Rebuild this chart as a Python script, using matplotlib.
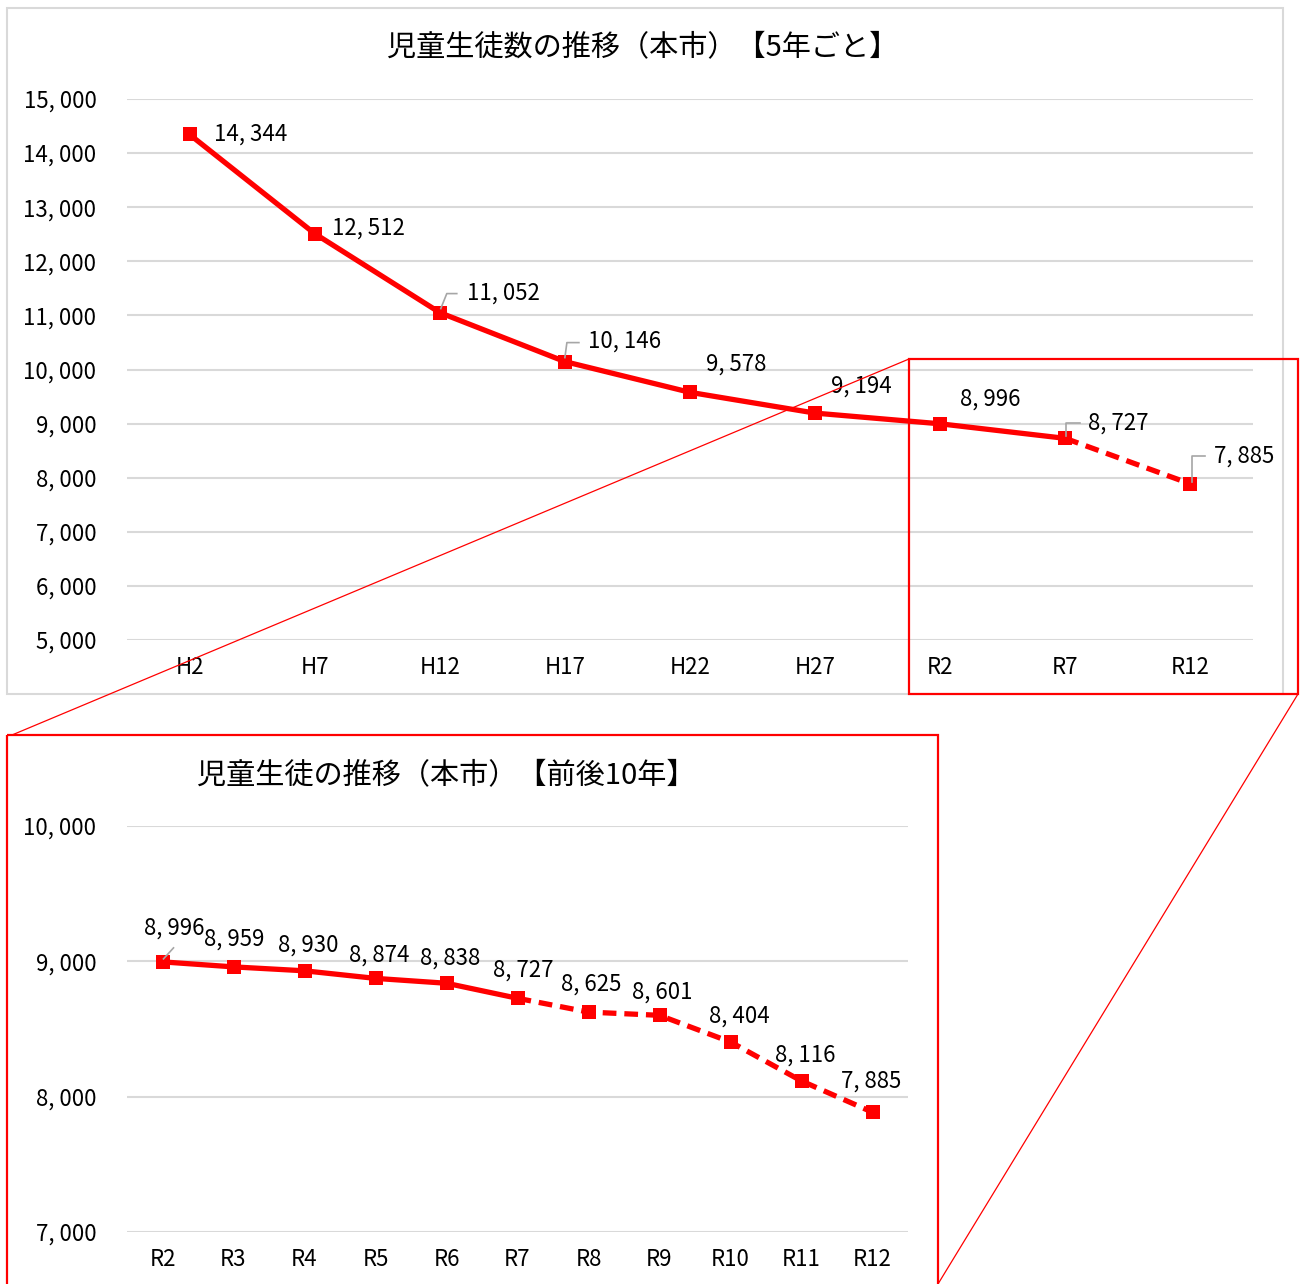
import matplotlib
matplotlib.use("Agg")
import matplotlib.pyplot as plt
from matplotlib.patches import Rectangle
from matplotlib.lines import Line2D
from matplotlib.transforms import IdentityTransform

plt.rcParams['font.family'] = ['Noto Sans CJK JP', 'DejaVu Sans']

# ---- data ----
five_year_labels = ['H2', 'H7', 'H12', 'H17', 'H22', 'H27', 'R2', 'R7', 'R12']
five_year_values = [14344, 12512, 11052, 10146, 9578, 9194, 8996, 8727, 7885]
five_year_last_actual = 7          # R7: solid up to here, dashed (projection) after

ten_year_labels = ['R2', 'R3', 'R4', 'R5', 'R6', 'R7', 'R8', 'R9', 'R10', 'R11', 'R12']
ten_year_values = [8996, 8959, 8930, 8874, 8838, 8727, 8625, 8601, 8404, 8116, 7885]
ten_year_last_actual = 5           # R7

top_title = '児童生徒数の推移（本市）【5年ごと】'
bottom_title = '児童生徒の推移（本市）【前後10年】'

# ---- styling ----
W, H = 1305, 1284
DPI = 100
RED = '#FF0000'
GRID = '#D9D9D9'
LEADER = '#A6A6A6'
TXT = '#000000'
TICK_FS = 16
LABEL_FS = 16
TITLE_FS = 21

# label offsets in pixels (dx, dy) from each point; dy positive = upward
top_label_offsets = [(24, 0), (17, 5), (27, 19), (23, 20), (16, 28),
                     (16, 27), (20, 25), (23, 15), (24, 28)]
# leader lines (polyline offsets in pixels from the point) for some labels
top_leaders = {2: [(1, 4), (7, 19), (17, 19)],
               3: [(0, 4), (2, 19), (14, 19)],
               7: [(1, 2), (1, 15), (15, 15)],
               8: [(2, 2), (2, 28), (15, 28)]}
bottom_label_offsets = [(12, 34), (1, 28), (4, 26), (4, 23), (4, 25), (6, 28),
                        (3, 28), (3, 23), (9, 26), (4, 26), (-1, 31)]
bottom_leaders = {0: [(1, 3), (11, 14)]}


def px_axes(fig, x0, y_top, x1, y_bottom):
    """Axes placed by image pixel coordinates (origin top-left)."""
    return fig.add_axes([x0 / W, 1 - y_bottom / H, (x1 - x0) / W, (y_bottom - y_top) / H])


def draw_series(ax, labels, values, last_actual, ymin, ymax, step,
                offsets, ha, lw, ms):
    n = len(values)
    xs = list(range(n))
    ax.set_xlim(-0.5, n - 0.5)
    ax.set_ylim(ymin, ymax)
    ticks = list(range(ymin, ymax + 1, step))
    ax.set_yticks(ticks)
    ax.set_yticklabels([f'{t:,}'.replace(',', ', ') for t in ticks])
    ax.set_xticks(xs)
    ax.set_xticklabels(labels)
    ax.grid(axis='y', color=GRID, linewidth=1.5)
    ax.set_axisbelow(True)
    for s in ax.spines.values():
        s.set_visible(False)
    ax.tick_params(axis='both', length=0, labelsize=TICK_FS, colors=TXT)
    ax.tick_params(axis='y', pad=22)
    ax.tick_params(axis='x', pad=11.5)
    ax.patch.set_alpha(0)

    # actual values (solid) and projection (dashed)
    ax.plot(xs[:last_actual + 1], values[:last_actual + 1], color=RED, lw=lw,
            solid_capstyle='round', zorder=3)
    ax.plot(xs[last_actual:], values[last_actual:], color=RED, lw=lw,
            linestyle=(0, (2.6, 1.5)), zorder=3)
    ax.plot(xs, values, linestyle='none', marker='s', ms=ms, color=RED,
            markeredgewidth=0, zorder=4)

    for i, v in enumerate(values):
        dx, dy = offsets[i]
        ax.annotate(f'{v:,}'.replace(',', ', '), xy=(i, v), xytext=(dx, dy),
                    textcoords='offset pixels', ha=ha, va='center',
                    fontsize=LABEL_FS, color=TXT, zorder=5)
    return xs


fig = plt.figure(figsize=(W / DPI, H / DPI), dpi=DPI)
fig.patch.set_facecolor('white')

# ---- upper chart: every 5 years ----
ax1 = px_axes(fig, 127, 99, 1253, 640)
draw_series(ax1, five_year_labels, five_year_values, five_year_last_actual,
            5000, 15000, 1000, top_label_offsets, 'left', 3.8, 10.5)
fig.text(643 / W, 1 - 47 / H, top_title, ha='center', va='center',
         fontsize=TITLE_FS, color=TXT)

# ---- lower chart: 10 years around now ----
ax2 = px_axes(fig, 127, 826, 908, 1232)
draw_series(ax2, ten_year_labels, ten_year_values, ten_year_last_actual,
            7000, 10000, 1000, bottom_label_offsets, 'center', 3.8, 10)
fig.text(446 / W, 1 - 775 / H, bottom_title, ha='center', va='center',
         fontsize=TITLE_FS, color=TXT)


def add_leaders(ax, values, leaders):
    for i, pts in leaders.items():
        bx, by = ax.transData.transform((i, values[i]))
        xs = [bx + p[0] for p in pts]
        ys = [by + p[1] for p in pts]
        fig.add_artist(Line2D(xs, ys, transform=IdentityTransform(),
                              color=LEADER, lw=1.2, zorder=6))


add_leaders(ax1, five_year_values, top_leaders)
add_leaders(ax2, ten_year_values, bottom_leaders)

# ---- frames and zoom connector (image pixel coordinates) ----
ov = fig.add_axes([0, 0, 1, 1])
ov.set_xlim(0, W)
ov.set_ylim(H, 0)
ov.axis('off')
ov.patch.set_alpha(0)
ov.add_patch(Rectangle((7, 8), 1276, 686, fill=False, edgecolor=GRID, lw=1.5))
ov.add_patch(Rectangle((909, 359), 389, 335, fill=False, edgecolor=RED, lw=1.6))
ov.add_patch(Rectangle((7, 735), 931, 600, fill=False, edgecolor=RED, lw=1.6))
ov.plot([909, 12], [359, 735], color=RED, lw=0.9)
ov.plot([1298, 938], [694, 1284], color=RED, lw=0.9)

fig.savefig('out.png', dpi=DPI, facecolor='white')
